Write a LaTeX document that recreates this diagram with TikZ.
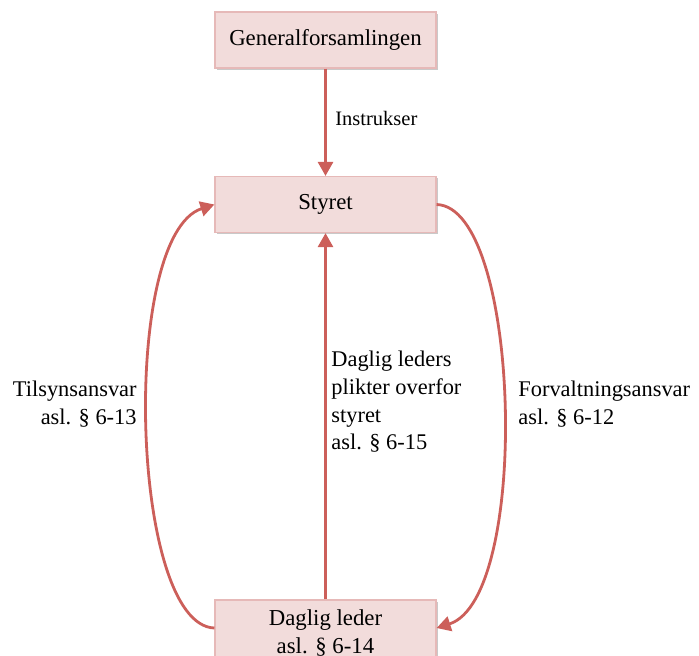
\documentclass[tikz,border=0pt]{standalone}
\usepackage{fontspec}
\setmainfont{Liberation Serif}
\usetikzlibrary{arrows.meta,shadows}
\definecolor{boxfill}{HTML}{F2DCDB}
\definecolor{boxline}{HTML}{E6B9B8}
\definecolor{linkred}{HTML}{CC5F5A}
\begin{document}
\begin{tikzpicture}[x=0.5pt,y=-0.5pt,
  orgbox/.style={draw=boxline, line width=0.6pt, fill=boxfill,
    minimum width=110.5pt, minimum height=28pt, inner sep=0pt,
    align=center, font=\fontsize{11.4}{14}\selectfont,
    drop shadow={shadow xshift=0.9pt, shadow yshift=-0.9pt, opacity=0.3, fill=black!70}},
  lbl/.style={inner sep=0pt, font=\fontsize{11.2}{13.8}\selectfont},
  link/.style={draw=linkred, line width=1.4pt},
  linkarrow/.style={link, -{Triangle[length=7pt,width=7.5pt]}}]
  \useasboundingbox (0,0) rectangle (699,655);
  \clip (0,0) rectangle (699,655);

  % organs of the company
  \node[orgbox] (gf) at (325.5,40) {Generalforsamlingen};
  \node[orgbox] (st) at (325.5,204.5) {Styret};
  \node[orgbox, minimum height=33pt] (dl) at (325.5,633) {Daglig leder\\asl. § 6-14};

  % instructions from the general meeting to the board
  \draw[linkarrow] (gf.south) -- (st.north);
  \node[lbl, font=\fontsize{10.25}{12}\selectfont, anchor=west] (instr) at (335,118) {Instrukser};

  % duties of the managing director towards the board
  \draw[linkarrow] (dl.north) -- (st.south);
  \node[lbl, align=left, anchor=west] (plikt) at (331,402)
    {Daglig leders\\plikter overfor\\styret\\asl. § 6-15};

  % supervision: managing director back up to the board
  \draw[linkarrow] ([yshift=2.5pt]dl.west) .. controls (130,625) and (120,235) .. (st.west);
  \node[lbl, align=right, anchor=east] (tilsyn) at (137,404)
    {Tilsynsansvar\\asl. § 6-13};

  % management: board down to the managing director
  \draw[linkarrow] (st.east) .. controls (521,207) and (531,598) .. ([yshift=2.5pt]dl.east);
  \node[lbl, align=left, anchor=west] (forvalt) at (518,404)
    {Forvaltningsansvar\\asl. § 6-12};
\end{tikzpicture}
\end{document}
